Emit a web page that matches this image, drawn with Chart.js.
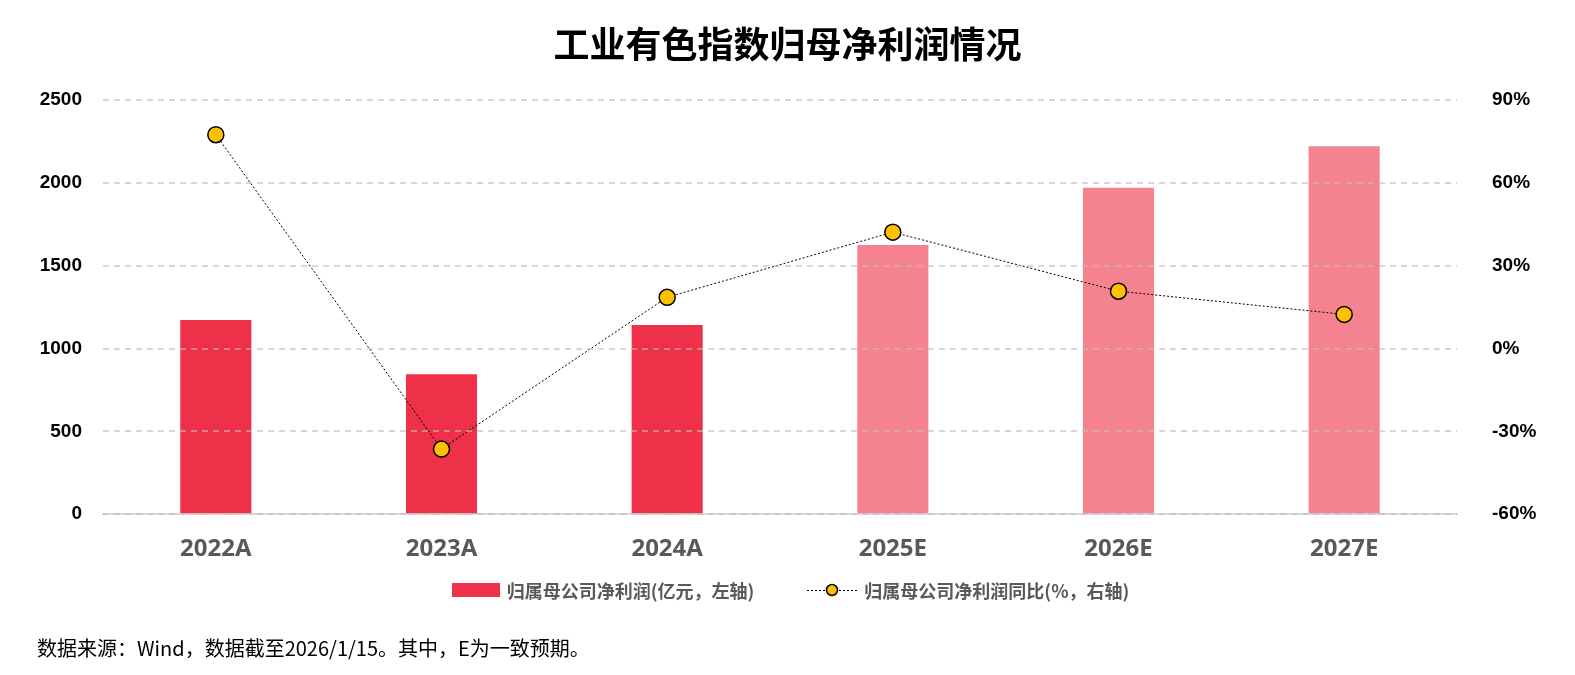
<!DOCTYPE html>
<html>
<head>
<meta charset="utf-8">
<script src="https://cdn.jsdelivr.net/npm/chart.js@4"></script>
<style>
  html, body { margin: 0; padding: 0; background: #fff; }
  #wrap { position: relative; width: 1575px; height: 675px; }
  #legend {
    position: absolute; left: 3px; top: 578px; width: 1575px; height: 24px;
    display: flex; justify-content: center; align-items: center;
    font: bold 18px "Noto Sans CJK SC", sans-serif; color: #595959;
  }
  #legend .item { display: flex; align-items: center; }
  #legend .item + .item { margin-left: 53px; }
  #legend canvas { margin-right: 7px; }
  #source {
    position: absolute; left: 37px; top: 633px; line-height: 24px;
    font: 20px "Noto Sans CJK SC", sans-serif; color: #000;
  }
</style>
</head>
<body>
<div id="wrap">
  <canvas id="profitChart" width="1575" height="675"></canvas>
  <div id="legend"></div>
  <div id="source">数据来源：Wind，数据截至2026/1/15。其中，E为一致预期。</div>
</div>
<script>
// Data
const categories = ['2022A', '2023A', '2024A', '2025E', '2026E', '2027E'];
const netProfit = [1172, 845, 1142, 1626, 1972, 2222]; // 亿元, left axis
const profitGrowth = [77.5, -36.4, 18.6, 42.2, 20.8, 12.4]; // %, right axis
const leftTicks = [0, 500, 1000, 1500, 2000, 2500];
const rightTicks = [-60, -30, 0, 30, 60, 90];

const actualColor = '#EE3049';
const forecastColor = '#F5828F';
const pointColor = '#FFC000';
const barColors = categories.map(c => c.endsWith('E') ? forecastColor : actualColor);

const numFont = "'Liberation Sans', 'Noto Sans CJK SC', sans-serif";

const ctx = document.getElementById('profitChart').getContext('2d');

const myChart = new Chart(ctx, {
    data: {
        labels: categories,
        datasets: [
            {
                type: 'line',
                label: '归属母公司净利润同比(%，右轴)',
                data: profitGrowth,
                yAxisID: 'yRight',
                borderColor: '#000',
                borderWidth: 1,
                borderDash: [2, 2],
                pointRadius: 8,
                pointHoverRadius: 8,
                pointBackgroundColor: pointColor,
                pointBorderColor: '#000',
                pointBorderWidth: 1.5,
                tension: 0,
                order: 0
            },
            {
                type: 'bar',
                label: '归属母公司净利润(亿元，左轴)',
                data: netProfit,
                yAxisID: 'yLeft',
                backgroundColor: barColors,
                categoryPercentage: 0.63,
                barPercentage: 0.5,
                order: 1
            }
        ]
    },
    options: {
        responsive: false,
        animation: false,
        layout: {
            padding: { left: 0, right: 0, top: 0, bottom: 98 }
        },
        scales: {
            x: {
                grid: { display: false },
                border: { color: '#d9d9d9', width: 2 },
                ticks: {
                    color: '#595959',
                    padding: 13,
                    font: { family: "'Noto Sans', sans-serif", size: 24, weight: 'bold' }
                }
            },
            yLeft: {
                position: 'left',
                min: 0,
                max: 2500,
                afterBuildTicks: axis => { axis.ticks = leftTicks.map(v => ({ value: v })); },
                afterFit: axis => { axis.width = 103; },
                grid: {
                    z: 1,
                    color: 'rgba(190,190,190,0.6)',
                    lineWidth: 2,
                    drawTicks: false
                },
                border: { display: false, dash: [6, 5] },
                ticks: {
                    color: '#000',
                    padding: 21,
                    callback: v => String(v),
                    font: { family: numFont, size: 19, weight: 'bold' }
                }
            },
            yRight: {
                position: 'right',
                min: -60,
                max: 90,
                afterBuildTicks: axis => { axis.ticks = rightTicks.map(v => ({ value: v })); },
                afterFit: axis => { axis.width = 118; },
                grid: { display: false },
                border: { display: false },
                ticks: {
                    color: '#000',
                    padding: 27,
                    callback: v => v + '%',
                    font: { family: numFont, size: 19, weight: 'bold' }
                }
            }
        },
        plugins: {
            title: {
                display: true,
                text: '工业有色指数归母净利润情况',
                color: '#000',
                padding: { top: 23, bottom: 34 },
                font: { family: "'Noto Sans CJK SC', sans-serif", size: 36, weight: 'bold' }
            },
            legend: { display: false },
            tooltip: { enabled: false }
        }
    }
});

// HTML legend: bar swatch and dotted line with marker
function legendIcon(kind) {
    const c = document.createElement('canvas');
    c.width = kind === 'bar' ? 48 : 50;
    c.height = 16;
    const g = c.getContext('2d');
    if (kind === 'bar') {
        g.fillStyle = actualColor;
        g.fillRect(0, 1, 48, 14);
    } else {
        g.strokeStyle = '#000';
        g.lineWidth = 1;
        g.setLineDash([2, 2]);
        g.beginPath();
        g.moveTo(0, 8.5);
        g.lineTo(50, 8.5);
        g.stroke();
        g.setLineDash([]);
        g.beginPath();
        g.arc(25, 8, 5.5, 0, Math.PI * 2);
        g.fillStyle = pointColor;
        g.fill();
        g.lineWidth = 1.5;
        g.stroke();
    }
    return c;
}

const legendBox = document.getElementById('legend');
[myChart.data.datasets[1], myChart.data.datasets[0]].forEach(ds => {
    const item = document.createElement('span');
    item.className = 'item';
    item.appendChild(legendIcon(ds.type));
    const txt = document.createElement('span');
    txt.textContent = ds.label;
    item.appendChild(txt);
    legendBox.appendChild(item);
});
</script>
</body>
</html>
